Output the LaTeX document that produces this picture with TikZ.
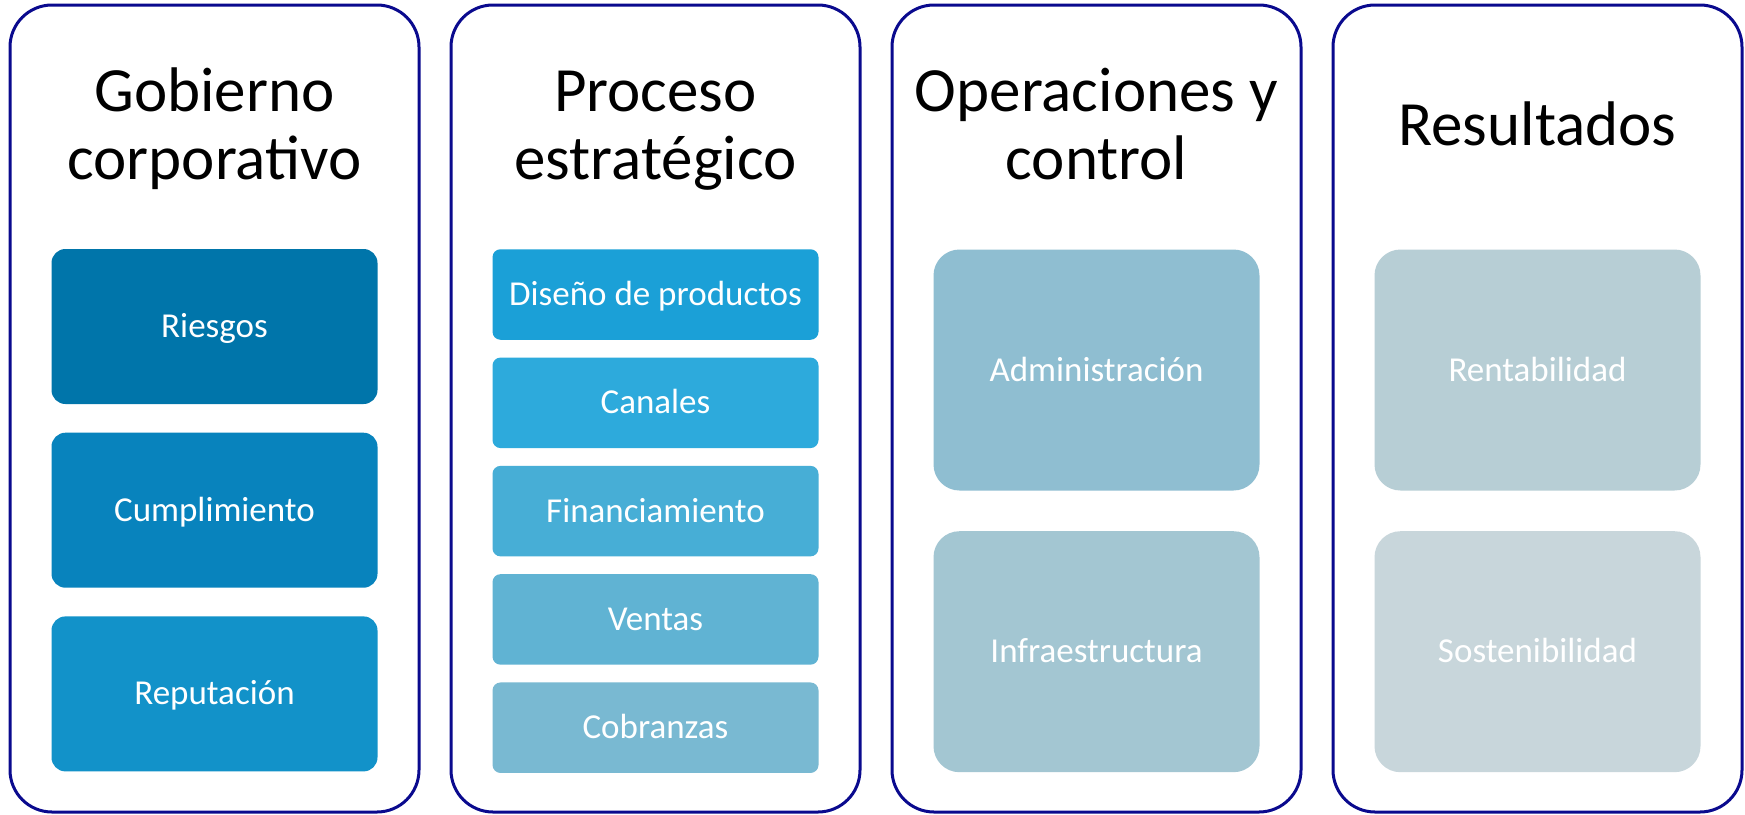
\documentclass[tikz,border=0pt]{standalone}
\usepackage{fontspec}
\setmainfont{Carlito}
\usepackage{tikz}
\usetikzlibrary{positioning}

\definecolor{frameBlue}{HTML}{0A0A8E}
\definecolor{govA}{HTML}{0075AA}
\definecolor{govB}{HTML}{0883BD}
\definecolor{govC}{HTML}{1292C9}
\definecolor{strA}{HTML}{1BA0D7}
\definecolor{strB}{HTML}{2DAADC}
\definecolor{strC}{HTML}{47AED6}
\definecolor{strD}{HTML}{60B3D3}
\definecolor{strE}{HTML}{79B9D2}
\definecolor{opA}{HTML}{8FBED1}
\definecolor{opB}{HTML}{A3C6D2}
\definecolor{resA}{HTML}{B7CED5}
\definecolor{resB}{HTML}{C8D6DB}

\begin{document}
\begin{tikzpicture}[x=1pt, y=-1pt, on grid]
	\tikzstyle{panel} = [draw=frameBlue, line width=3pt, fill=white, rectangle, rounded corners=42pt, minimum width=409pt, minimum height=807pt, inner sep=0pt];
	\tikzstyle{heading} = [anchor=base, align=center, text=black, font={\fontsize{63}{68}\selectfont}];
	\tikzstyle{item} = [rectangle, text=white, inner sep=0pt, minimum width=326pt, text height=22pt, text depth=0pt, font={\fontsize{35}{42}\selectfont}];
	\tikzstyle{govItem} = [item, minimum height=155pt, rounded corners=14pt, node distance=183.7pt];
	\tikzstyle{strItem} = [item, minimum height=90.5pt, rounded corners=8pt, node distance=108.3pt];
	\tikzstyle{bigItem} = [item, minimum height=241pt, rounded corners=26pt, node distance=281.7pt];
	
	\useasboundingbox (0,0) rectangle (1745,814);
	
	\node[panel](gob) at (214.5,408.5) {};
	\node[panel](pro) at (655.5,408.5) {};
	\node[panel](ope) at (1096.5,408.5) {};
	\node[panel](res) at (1537.5,408.5) {};
	
	\node[heading](gobTitle) at (214.5,179) {Gobierno\\corporativo};
	\node[heading](proTitle) at (655.5,179) {Proceso\\estratégico};
	\node[heading](opeTitle) at (1096.5,179) {Operaciones y\\control};
	\node[heading](resTitle) at (1537.5,145) {Resultados};
	
	\node[govItem, fill=govA](riesgos) at (214.5,326.5) {Riesgos};
	\node[govItem, fill=govB](cumplimiento) [below=of riesgos] {Cumplimiento};
	\node[govItem, fill=govC](reputacion) [below=of cumplimiento] {Reputación};
	
	\node[strItem, fill=strA](diseno) at (655.5,294.5) {Diseño de productos};
	\node[strItem, fill=strB](canales) [below=of diseno] {Canales};
	\node[strItem, fill=strC](financiamiento) [below=of canales] {Financiamiento};
	\node[strItem, fill=strD](ventas) [below=of financiamiento] {Ventas};
	\node[strItem, fill=strE](cobranzas) [below=of ventas] {Cobranzas};
	
	\node[bigItem, fill=opA](administracion) at (1096.5,370) {Administración};
	\node[bigItem, fill=opB](infraestructura) [below=of administracion] {Infraestructura};
	
	\node[bigItem, fill=resA](rentabilidad) at (1537.5,370) {Rentabilidad};
	\node[bigItem, fill=resB](sostenibilidad) [below=of rentabilidad] {Sostenibilidad};
\end{tikzpicture}
\end{document}
